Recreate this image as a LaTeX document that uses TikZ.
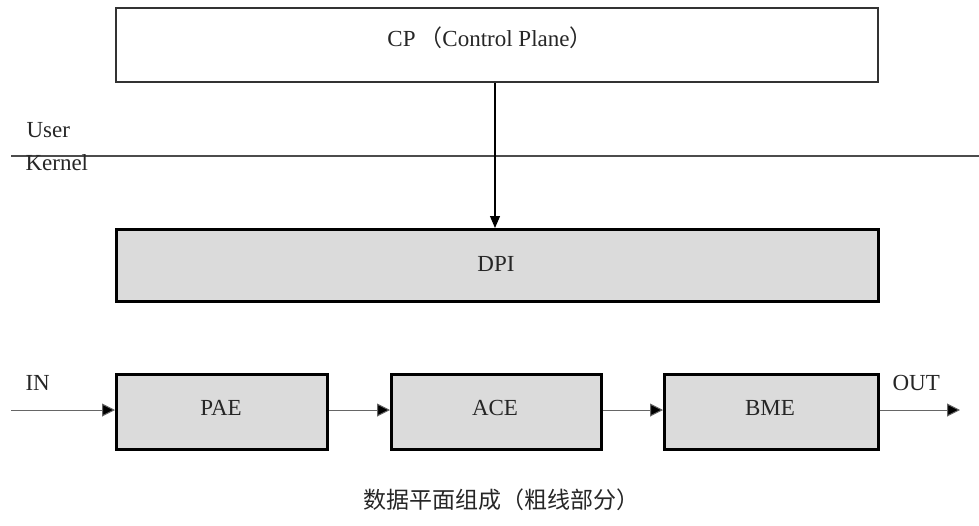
\documentclass[tikz,border=0pt]{standalone}
\usepackage{fontspec}
\setmainfont{Liberation Serif}
\newfontfamily\cjk{Noto Sans CJK SC}
\usetikzlibrary{arrows.meta}
\begin{document}
\begin{tikzpicture}[x=1pt,y=-1pt,
  cpbox/.style={draw=black!80, line width=1.5pt, fill=white, minimum width=762pt, minimum height=74pt, inner sep=0pt},
  dpbox/.style={draw=black, line width=2.6pt, fill=black!14, inner sep=0pt},
  lbl/.style={font=\fontsize{23}{26}\selectfont, text=black!85},
  flow/.style={draw=black!60, line width=1pt, -{Triangle[length=13pt,width=13pt,fill=black]}}
]
\useasboundingbox (0,0) rectangle (979,525);
\node[cpbox, anchor=north west] (cp) at (115,7) {};
\node[lbl] at (490,38) {CP\,{\cjk （}Control Plane{\cjk ）}};
\draw[draw=black!70, line width=1.3pt] (11,156) coordinate (ls) -- (979,156) coordinate (le);
\node[lbl, anchor=west] (user) at (23,130) {User};
\node[lbl, anchor=west] (kernel) at (22,163) {Kernel};
\node[dpbox, anchor=north west, minimum width=762pt, minimum height=72pt] (dpi) at (115,228) {};
\node[lbl] at (496,264) {DPI};
\draw[black, line width=1.1pt, -{Triangle[length=12pt,width=10pt]}] (cp.south -| 495,0) -- (dpi.north -| 495,0);
\node[dpbox, anchor=north west, minimum width=211pt, minimum height=75pt] (pae) at (115,373) {};
\node[lbl] at (221,408) {PAE};
\node[dpbox, anchor=north west, minimum width=210pt, minimum height=75pt] (ace) at (390,373) {};
\node[lbl] at (495,408) {ACE};
\node[dpbox, anchor=north west, minimum width=214pt, minimum height=75pt] (bme) at (663,373) {};
\node[lbl] at (770,408) {BME};
\coordinate (in) at (11,410);
\coordinate (out) at (960,410);
\draw[flow] (in) -- (in -| pae.west);
\draw[flow] (pae.east |- 0,410) -- (ace.west |- 0,410);
\draw[flow] (ace.east |- 0,410) -- (bme.west |- 0,410);
\draw[flow] (bme.east |- 0,410) -- (out);
\node[lbl, anchor=west] (inl) at (22,383) {IN};
\node[lbl, anchor=west] (outl) at (889,383) {OUT};
\node[font=\cjk\fontsize{23}{26}\selectfont, text=black!85] (cap) at (501,500) {数据平面组成（粗线部分）};
\end{tikzpicture}
\end{document}
